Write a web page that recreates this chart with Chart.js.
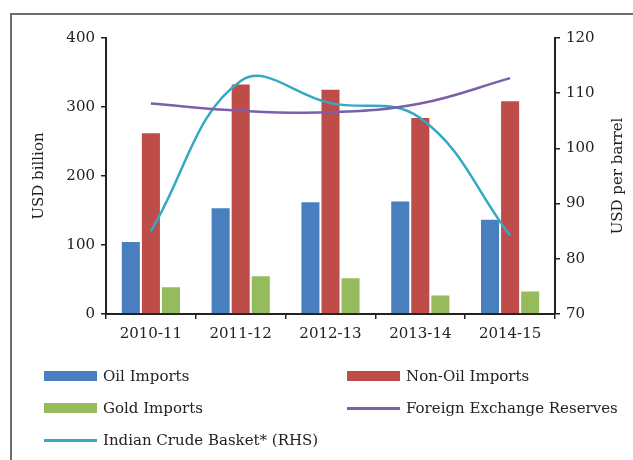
<!DOCTYPE html>
<html>
<head>
<meta charset="utf-8">
<script src="https://cdn.jsdelivr.net/npm/chart.js@4/dist/chart.umd.min.js"></script>
<style>
  html,body{margin:0;padding:0;background:#fff;}
  #wrap{position:relative;width:633px;height:460px;overflow:hidden;}
  #frame{position:absolute;left:10px;top:13px;width:700px;height:500px;border-left:2px solid #6d6d6d;border-top:2px solid #6d6d6d;}
  #c{position:absolute;left:0;top:0;}
  #legend{position:absolute;left:0;top:0;width:633px;height:460px;font-family:"DejaVu Serif",serif;font-size:15px;color:#222;}
  .li{position:absolute;display:flex;align-items:center;height:20px;white-space:nowrap;}
  .sw{display:inline-block;width:53px;margin-right:6px;}
</style>
</head>
<body>
<div id="wrap">
  <div id="frame"></div>
  <canvas id="c" width="633" height="460"></canvas>
  <div id="legend"></div>
</div>
<script>
/* data */
const categories    = ['2010-11','2011-12','2012-13','2013-14','2014-15'];
const oilImports    = [105.7, 154.7, 163.4, 164.4, 138.2];
const nonOilImports = [263.3, 334.0, 326.3, 285.6, 309.8];
const goldImports   = [40.2, 56.2, 53.3, 28.1, 33.9];
const fxReserves    = [305.0, 294.5, 292.4, 305.0, 341.8];   // USD billion, LHS
const crudeBasket   = [85.0, 112.2, 108.2, 105.5, 84.2];     // USD per barrel, RHS

const leftTicks  = {min:0, max:400, step:100};
const rightTicks = {min:70, max:120, step:10};

/* colours */
const C_OIL='#4a7fbf', C_NONOIL='#be4d4a', C_GOLD='#95bb5c', C_FX='#7b5fa8', C_CRUDE='#34a9c3';
const INK='#222';
const FONT={family:'"DejaVu Serif", serif', size:15};

const rightTitle = {
  id:'rightTitle',
  afterDraw(chart){
    const ctx=chart.ctx;
    ctx.save();
    ctx.translate(618,176);
    ctx.rotate(-Math.PI/2);
    ctx.font='15px "DejaVu Serif", serif';
    ctx.fillStyle=INK; ctx.textAlign='center'; ctx.textBaseline='middle';
    ctx.fillText('USD per barrel',0,0);
    ctx.restore();
  }
};

const axisGrid = {drawOnChartArea:false, drawTicks:true, tickLength:5, color:INK, lineWidth:1.5};
const axisBorder = {display:true, color:INK, width:2};

const chart = new Chart(document.getElementById('c'), {
  type:'bar',
  data:{
    labels:categories,
    datasets:[
      {type:'line', label:'Foreign Exchange Reserves', data:fxReserves, yAxisID:'y', borderColor:C_FX, backgroundColor:C_FX, borderWidth:2.5, pointRadius:0, tension:0.4, order:0, kind:'line'},
      {type:'line', label:'Indian Crude Basket* (RHS)', data:crudeBasket, yAxisID:'y1', borderColor:C_CRUDE, backgroundColor:C_CRUDE, borderWidth:2.5, pointRadius:0, tension:0.4, order:0, kind:'line'},
      {label:'Oil Imports', data:oilImports, backgroundColor:C_OIL, borderColor:'rgba(255,255,255,0.5)', borderWidth:1, yAxisID:'y', order:1, kind:'bar'},
      {label:'Non-Oil Imports', data:nonOilImports, backgroundColor:C_NONOIL, borderColor:'rgba(255,255,255,0.5)', borderWidth:1, yAxisID:'y', order:1, kind:'bar'},
      {label:'Gold Imports', data:goldImports, backgroundColor:C_GOLD, borderColor:'rgba(255,255,255,0.5)', borderWidth:1, yAxisID:'y', order:1, kind:'bar'}
    ]
  },
  options:{
    responsive:false, animation:false, devicePixelRatio:1,
    categoryPercentage:0.67, barPercentage:1.0,
    layout:{padding:{top:38, left:0, right:0, bottom:0}},
    plugins:{legend:{display:false}, tooltip:{enabled:false}},
    scales:{
      x:{
        grid:{...axisGrid, offset:true},
        border:axisBorder,
        ticks:{color:INK, font:FONT, padding:6, maxRotation:0},
        afterFit(s){ s.height=146; }
      },
      y:{
        position:'left', min:leftTicks.min, max:leftTicks.max,
        grid:axisGrid, border:axisBorder,
        ticks:{stepSize:leftTicks.step, color:INK, font:FONT, padding:6},
        title:{display:true, text:'USD billion', color:INK, font:FONT, padding:{top:30,bottom:0}},
        afterFit(s){ s.width=106; }
      },
      y1:{
        position:'right', min:rightTicks.min, max:rightTicks.max,
        grid:axisGrid, border:axisBorder,
        ticks:{stepSize:rightTicks.step, color:INK, font:FONT, padding:6},
        afterFit(s){ s.width=78; }
      }
    }
  },
  plugins:[rightTitle]
});

/* legend, two columns like the original */
const legendOrder = ['Oil Imports','Non-Oil Imports','Gold Imports','Foreign Exchange Reserves','Indian Crude Basket* (RHS)'];
const colX = [44, 347], rowY = [366, 398, 430];
const lg = document.getElementById('legend');
legendOrder.forEach((name,i)=>{
  const ds = chart.data.datasets.find(d=>d.label===name);
  const el = document.createElement('div');
  el.className='li';
  el.style.left = colX[i%2]+'px';
  el.style.top = rowY[Math.floor(i/2)]+'px';
  const h = ds.kind==='bar' ? 10 : 3;
  el.innerHTML = `<span class="sw" style="height:${h}px;background:${ds.backgroundColor}"></span><span>${name}</span>`;
  lg.appendChild(el);
});
</script>
</body>
</html>
